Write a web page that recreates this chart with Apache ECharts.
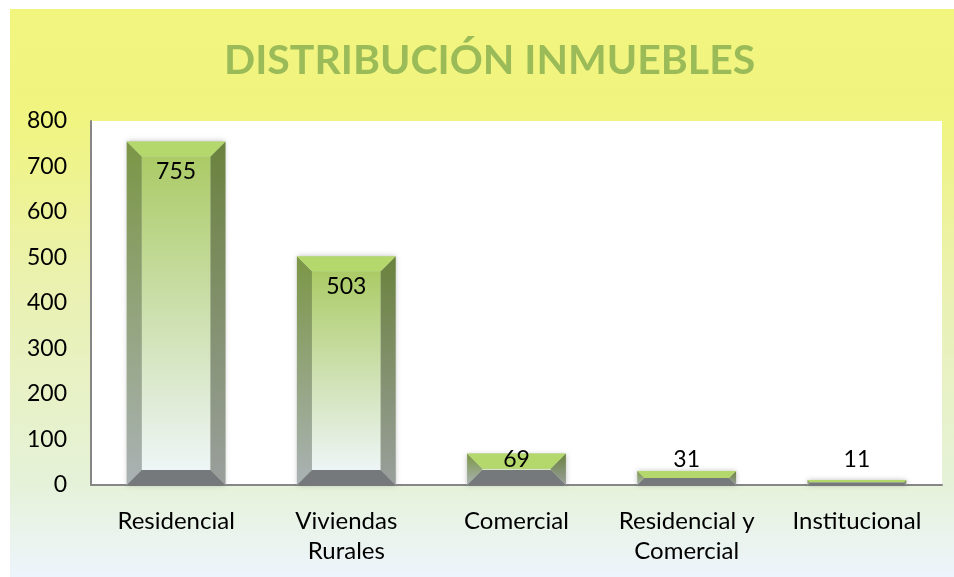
<!DOCTYPE html>
<html>
<head>
<meta charset="utf-8">
<script src="https://cdn.jsdelivr.net/npm/echarts@6/dist/echarts.min.js"></script>
<style>
  html, body { margin: 0; padding: 0; background: #fff; }
  #chart { width: 954px; height: 577px; }
</style>
</head>
<body>
<div id="chart"></div>
<script>
  const categories = ['Residencial', 'Viviendas\nRurales', 'Comercial', 'Residencial y\nComercial', 'Institucional']
  const values = [755, 503, 69, 31, 11]
  const yTicks = [0, 100, 200, 300, 400, 500, 600, 700, 800]

  const fontName = 'Lato, "Open Sans", sans-serif'

  const chart = echarts.init(document.getElementById('chart'))

  const vgrad = (a, b) => ({
    type: 'linear', x: 0, y: 0, x2: 0, y2: 1,
    colorStops: [{ offset: 0, color: a }, { offset: 1, color: b }]
  })

  // bevelled bar, like the excel 3d bevel style
  function renderBar(params, api) {
    const top = api.coord([api.value(0), api.value(1)])
    const base = api.coord([api.value(0), 0])
    const w = api.size([1, 0])[0] * 0.58
    const l = top[0] - w / 2
    const r = top[0] + w / 2
    const t = top[1]
    const bot = base[1]
    const h = bot - t
    const b = Math.min(15, h / 2, w / 2)
    const labelY = Math.min(t + 30, bot - 25)
    return {
      type: 'group',
      children: [
        {
          type: 'rect',
          shape: { x: l, y: t, width: w, height: h },
          style: { fill: '#c8cfc0', shadowBlur: 5, shadowColor: 'rgba(0,0,0,0.25)' }
        },
        {
          type: 'rect',
          shape: { x: l + b, y: t + b, width: w - 2 * b, height: Math.max(0, h - 2 * b) },
          style: { fill: vgrad('#abcb66', '#eef5f6') }
        },
        {
          type: 'polygon',
          shape: { points: [[l, t], [l + b, t + b], [l + b, bot - b], [l, bot]] },
          style: { fill: vgrad('#7b9645', '#aab2b4') }
        },
        {
          type: 'polygon',
          shape: { points: [[r, t], [r - b, t + b], [r - b, bot - b], [r, bot]] },
          style: { fill: vgrad('#6a823d', '#9a9f9d') }
        },
        {
          type: 'polygon',
          shape: { points: [[l, t], [r, t], [r - b, t + b], [l + b, t + b]] },
          style: { fill: '#b4d86c' }
        },
        {
          type: 'polygon',
          shape: { points: [[l, bot], [r, bot], [r - b, bot - b], [l + b, bot - b]] },
          style: { fill: '#76797b' }
        },
        {
          type: 'text',
          style: {
            text: String(api.value(1)),
            x: top[0], y: labelY,
            align: 'center', verticalAlign: 'middle',
            fill: '#000', font: '23px ' + fontName
          }
        }
      ]
    }
  }

  chart.setOption({
    animation: false,
    graphic: [
      {
        type: 'rect',
        z: -10,
        shape: { x: 10, y: 9, width: 944, height: 568 },
        style: {
          fill: {
            type: 'linear', x: 0, y: 0, x2: 0, y2: 1,
            colorStops: [
              { offset: 0, color: '#f2f57e' },
              { offset: 0.2, color: '#f0f480' },
              { offset: 0.5, color: '#eaf1b2' },
              { offset: 0.83, color: '#e5f2d8' },
              { offset: 1, color: '#eef4fc' }
            ]
          }
        }
      },
      {
        type: 'text',
        left: 224, top: 40,
        style: {
          text: 'DISTRIBUCIÓN INMUEBLES',
          fill: '#9bbb59',
          font: 'bold 41px ' + fontName
        }
      }
    ],
    grid: {
      left: 91, right: 12, top: 121, bottom: 92,
      show: true, backgroundColor: '#fff', borderWidth: 0
    },
    xAxis: {
      type: 'category',
      data: categories,
      axisLine: { lineStyle: { color: '#868686', width: 2 } },
      axisTick: { show: false },
      axisLabel: {
        color: '#000', fontSize: 24, fontFamily: fontName,
        lineHeight: 30, margin: 21, interval: 0
      }
    },
    yAxis: {
      type: 'value',
      min: 0, max: 800, interval: 100,
      axisLine: { show: true, lineStyle: { color: '#868686', width: 2 } },
      axisTick: { show: false },
      splitLine: { show: false },
      axisLabel: {
        color: '#000', fontSize: 23, fontFamily: fontName, margin: 24,
        formatter: v => (yTicks.indexOf(v) >= 0 ? String(v) : '')
      }
    },
    series: [{
      type: 'custom',
      renderItem: renderBar,
      encode: { x: 0, y: 1 },
      data: values.map((v, i) => [i, v])
    }]
  })
</script>
</body>
</html>
